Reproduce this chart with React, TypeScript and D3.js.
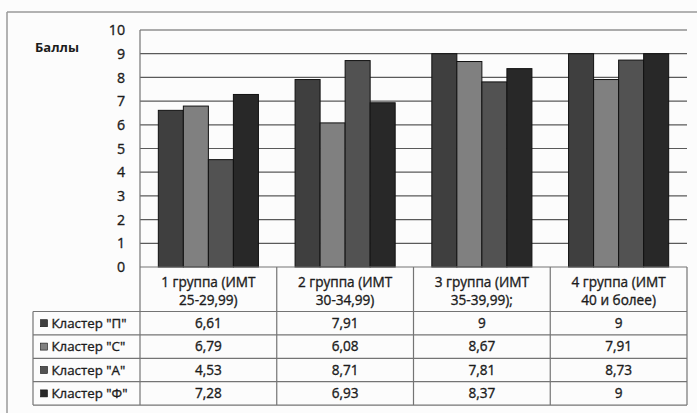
import React from "react";
import * as d3 from "d3";

// Category labels (two lines each, as shown in the table header)
const groupLabels: string[][] = [
  ["1 группа (ИМТ", "25-29,99)"],
  ["2 группа (ИМТ", "30-34,99)"],
  ["3 группа (ИМТ", "35-39,99);"],
  ["4 группа (ИМТ", "40 и более)"],
];

const seriesNames: string[] = ['Кластер "П"', 'Кластер "С"', 'Кластер "А"', 'Кластер "Ф"'];

const valuesP: number[] = [6.61, 7.91, 9, 9];
const valuesS: number[] = [6.79, 6.08, 8.67, 7.91];
const valuesA: number[] = [4.53, 8.71, 7.81, 8.73];
const valuesF: number[] = [7.28, 6.93, 8.37, 9];

const yTicks: number[] = [0, 1, 2, 3, 4, 5, 6, 7, 8, 9, 10];

const seriesColors: string[] = ["#3f3f3f", "#808080", "#525252", "#282828"];

const W = 697;
const H = 413;
const FONT = "'Open Sans', 'Noto Sans', sans-serif";

export default function App() {
  const series = [valuesP, valuesS, valuesA, valuesF];

  const plotLeft = 140;
  const plotRight = 687;
  const plotTop = 30;
  const plotBottom = 267;

  const y = d3.scaleLinear().domain([0, 10]).range([plotBottom, plotTop]);
  const x0 = d3
    .scaleBand<number>()
    .domain(groupLabels.map((_, i) => i))
    .range([plotLeft, plotRight])
    .padding(0);
  const bw = x0.bandwidth();
  const groupWidth = bw * 0.732;
  const x1 = d3
    .scaleBand<number>()
    .domain(seriesNames.map((_, i) => i))
    .range([(bw - groupWidth) / 2, (bw + groupWidth) / 2])
    .padding(0);

  // table geometry
  const headerBottom = 311.5;
  const rowH = 23.4;
  const tableLeft = 33;
  const tableBottom = headerBottom + rowH * seriesNames.length;

  const fmt = (v: number) => String(v).replace(".", ",");
  const gridColor = "#5a5a5a";
  const tableColor = "#747474";
  const textColor = "#1c1c1c";
  const textProps = { fill: textColor, stroke: textColor, strokeWidth: 0.35 };

  return (
    <svg
      width={W}
      height={H}
      style={{ position: "absolute", left: 0, top: 0, background: "#fcfcfc" }}
      fontFamily={FONT}
    >
      {/* outer frame */}
      <line x1={7} x2={W} y1={12} y2={12} stroke="#9a9a9a" strokeWidth={1.5} />
      <line x1={7} x2={7} y1={12} y2={H} stroke="#9a9a9a" strokeWidth={1.5} />

      {/* y axis title */}
      <text x={35} y={52} fontSize={13} fontWeight="bold" fill={textColor}>
        Баллы
      </text>

      {/* gridlines and tick labels */}
      {yTicks.map((t) => (
        <g key={t}>
          {t > 0 && (
            <line x1={plotLeft} x2={plotRight} y1={y(t)} y2={y(t)} stroke={gridColor} strokeWidth={1.2} />
          )}
          <text x={125} y={y(t)} dy="0.36em" textAnchor="end" fontSize={14.2} {...textProps}>
            {t}
          </text>
        </g>
      ))}

      {/* bars */}
      {groupLabels.map((_, gi) =>
        series.map((vals, si) => (
          <rect
            key={`${gi}-${si}`}
            x={(x0(gi) as number) + (x1(si) as number)}
            y={y(vals[gi])}
            width={x1.bandwidth()}
            height={y(0) - y(vals[gi])}
            fill={seriesColors[si]}
            stroke="#111"
            strokeWidth={1}
          />
        ))
      )}

      {/* y axis line */}
      <line x1={plotLeft} x2={plotLeft} y1={plotTop} y2={tableBottom} stroke={tableColor} strokeWidth={1.2} />
      {/* baseline / table top */}
      <line x1={plotLeft} x2={plotRight} y1={plotBottom} y2={plotBottom} stroke={tableColor} strokeWidth={1.2} />

      {/* data table */}
      {groupLabels.map((_, gi) => (
        <line
          key={`v${gi}`}
          x1={(x0(gi) as number) + bw}
          x2={(x0(gi) as number) + bw}
          y1={plotBottom}
          y2={tableBottom}
          stroke={tableColor}
          strokeWidth={1.2}
        />
      ))}
      <line x1={tableLeft} x2={tableLeft} y1={headerBottom} y2={tableBottom} stroke={tableColor} strokeWidth={1.2} />
      {seriesNames.map((_, si) => (
        <line
          key={`h${si}`}
          x1={tableLeft}
          x2={plotRight}
          y1={headerBottom + rowH * si}
          y2={headerBottom + rowH * si}
          stroke={tableColor}
          strokeWidth={1.2}
        />
      ))}
      <line x1={tableLeft} x2={plotRight} y1={tableBottom} y2={tableBottom} stroke={tableColor} strokeWidth={1.2} />

      {/* header labels */}
      {groupLabels.map((lines, gi) => (
        <text key={`g${gi}`} x={(x0(gi) as number) + bw / 2} textAnchor="middle" fontSize={13.6} {...textProps}>
          {lines.map((ln, li) => (
            <tspan key={li} x={(x0(gi) as number) + bw / 2} y={287 + li * 18}>
              {ln}
            </tspan>
          ))}
        </text>
      ))}

      {/* rows: legend key + values */}
      {seriesNames.map((name, si) => {
        const cy = headerBottom + rowH * si + rowH / 2;
        return (
          <g key={`r${si}`}>
            <rect x={40.5} y={cy - 3.5} width={7} height={7} fill={seriesColors[si]} stroke="#111" strokeWidth={0.6} />
            <text x={51.5} y={cy} dy="0.36em" fontSize={13.3} {...textProps}>
              {name}
            </text>
            {groupLabels.map((_, gi) => (
              <text
                key={gi}
                x={(x0(gi) as number) + bw / 2}
                y={cy}
                dy="0.36em"
                textAnchor="middle"
                fontSize={13.6}
                {...textProps}
              >
                {fmt(series[si][gi])}
              </text>
            ))}
          </g>
        );
      })}
    </svg>
  );
}
